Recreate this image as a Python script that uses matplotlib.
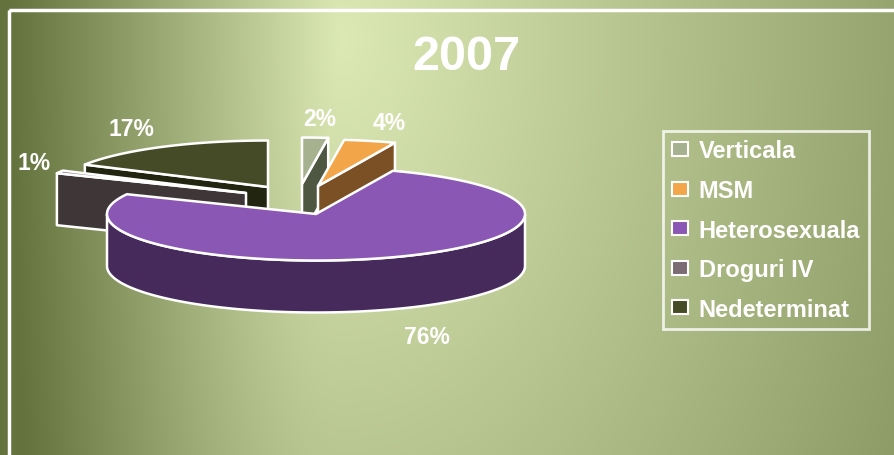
import numpy as np
import matplotlib
matplotlib.use('Agg')
import matplotlib.pyplot as plt
from matplotlib.patches import Polygon, Rectangle, Patch

plt.rcParams['font.family'] = ['Liberation Sans', 'DejaVu Sans']

# ---- data ----
title = '2007'
categories = ['Verticala', 'MSM', 'Heterosexuala', 'Droguri IV', 'Nedeterminat']
values = [2, 4, 76, 1, 17]
pct_labels = ['2%', '4%', '76%', '1%', '17%']

# ---- style ----
top_colors = ['#A6B18F', '#F3A54A', '#8B57B5', '#7B6B72', '#464B27']
side_colors = ['#4E5742', '#7B5025', '#462A5B', '#3F3637', '#22250F']
explode = [(-14, -30), (2, -28), (0, 0), (-70, -21), (-48, -27)]
label_shift = [(5, -21), (19, -20), (34, 26), (-26, -11), (-30, -20)]
draw_order = [4, 3, 0, 1, 2]

W, H = 895, 456
fig = plt.figure(figsize=(W / 100, H / 100), dpi=100)
ax = fig.add_axes([0, 0, 1, 1])
ax.set_xlim(0, W)
ax.set_ylim(H, 0)
ax.axis('off')

# background gradient
yy, xx = np.mgrid[0:H, 0:W]
gx, gy = 340, 40
sx = np.where(xx < gx, 330.0, 950.0)
t = np.clip(np.sqrt(((xx - gx) / sx) ** 2 + ((yy - gy) / 1430.0) ** 2), 0, 1)
light = np.array([220, 233, 180]) / 255
dark = np.array([100, 115, 62]) / 255
img = light[None, None, :] * (1 - t[..., None]) + dark[None, None, :] * t[..., None]
ax.imshow(img, extent=(0, W, H, 0), aspect='auto', zorder=0, interpolation='bilinear')

# frame
ax.add_patch(Rectangle((9, 11), W + 20, H + 20, fill=False, edgecolor='white', lw=2.5, zorder=1))

# 3D pie geometry
cx, cy, rx, ry, depth = 316, 215, 209, 46.5, 52
total = float(sum(values))
fracs = np.array(values) / total
starts = 90 - 360 * np.concatenate([[0], np.cumsum(fracs)[:-1]])
ends = starts - 360 * fracs

def pt(vx, vy, a, dz=0):
    r = np.deg2rad(a)
    return (vx + rx * np.cos(r), vy - ry * np.sin(r) + dz)

ekw = dict(edgecolor='white', lw=1.8, joinstyle='round')
z = 2
for i in draw_order:
    a0, a1 = starts[i], ends[i]
    vx, vy = cx + explode[i][0], cy + explode[i][1]
    ang = np.linspace(a0, a1, max(int(abs(a0 - a1)) * 2, 4))
    # cut faces
    for a, vis in ((a0, np.cos(np.deg2rad(a0)) < -1e-9), (a1, np.cos(np.deg2rad(a1)) > 1e-9)):
        if vis:
            p = pt(vx, vy, a)
            poly = [(vx, vy), p, (p[0], p[1] + depth), (vx, vy + depth)]
            ax.add_patch(Polygon(poly, closed=True, facecolor=side_colors[i], zorder=z, **ekw))
    # outer wall (front part)
    front = ang[np.sin(np.deg2rad(ang)) < 0]
    if len(front) > 1:
        topp = [pt(vx, vy, a) for a in front]
        botp = [pt(vx, vy, a, depth) for a in front[::-1]]
        ax.add_patch(Polygon(topp + botp, closed=True, facecolor=side_colors[i], zorder=z, **ekw))
    # top face
    poly = [(vx, vy)] + [pt(vx, vy, a) for a in ang]
    ax.add_patch(Polygon(poly, closed=True, facecolor=top_colors[i], zorder=z + 0.5, **ekw))
    z += 1

# percentage labels
for i, lab in enumerate(pct_labels):
    mid = (starts[i] + ends[i]) / 2
    vx, vy = cx + explode[i][0], cy + explode[i][1]
    ax_, ay_ = pt(vx, vy, mid, depth if np.sin(np.deg2rad(mid)) < 0 else 0)
    ax.text(ax_ + label_shift[i][0], ay_ + label_shift[i][1] + 8, lab, ha='center', va='baseline',
            fontsize=16.5, fontweight='bold', color='white', zorder=20)

# title
ax.text(466, 70, title, ha='center', va='baseline', fontsize=35, fontweight='bold', color='white', zorder=20)

# legend
handles = [Patch(facecolor=c, edgecolor='white', linewidth=1.5) for c in top_colors]
leg = ax.legend(handles, categories, loc='upper left', bbox_to_anchor=(663 / W, 1 - 132 / H),
                bbox_transform=fig.transFigure, frameon=True, fancybox=False, fontsize=17,
                labelspacing=0.70, handlelength=0.7, handleheight=0.55, handletextpad=0.45,
                borderpad=0.36, borderaxespad=0)
fr = leg.get_frame()
fr.set_facecolor('none')
fr.set_edgecolor('white')
fr.set_linewidth(2)
for txt in leg.get_texts():
    txt.set_color('white')
    txt.set_fontweight('bold')
leg.set_zorder(30)

fig.savefig('out.png', dpi=100)
